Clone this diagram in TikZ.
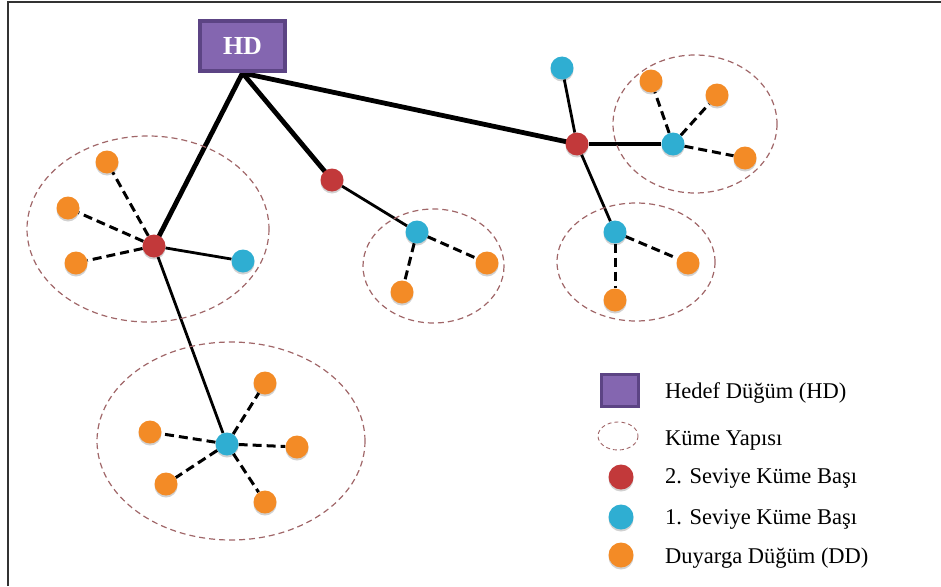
\documentclass[tikz,border=0pt]{standalone}
\usepackage{fontspec}
\setmainfont{Liberation Serif}
\usetikzlibrary{shadows,backgrounds}
\definecolor{ddorange}{HTML}{F38B26}
\definecolor{kbred}{HTML}{C2393A}
\definecolor{kbblue}{HTML}{2FAED2}
\definecolor{hdfill}{HTML}{8466B0}
\definecolor{hdedge}{HTML}{5C4484}
\definecolor{ringcol}{HTML}{A06668}
\tikzset{
  dot/.style={circle,minimum size=23pt,inner sep=0pt,
    drop shadow={shadow xshift=0pt,shadow yshift=-2pt,opacity=0.18,fill=black}},
  dd/.style={dot,fill=ddorange},
  kbone/.style={dot,fill=kbblue},
  kbtwo/.style={dot,fill=kbred},
  hdbox/.style={rectangle,fill=hdfill,draw=hdedge,line width=4pt,inner sep=0pt},
  trunk/.style={line width=4.8pt,black},
  link/.style={line width=2.8pt,black},
  member/.style={line width=3pt,black,dash pattern=on 9pt off 5pt},
  ring/.style={ringcol,line width=1.2pt,dash pattern=on 6pt off 4pt},
  legtext/.style={anchor=base west,font=\fontsize{22.5}{26}\selectfont,inner sep=0pt},
}
\begin{document}
\begin{tikzpicture}[x=1pt,y=-1pt]
\useasboundingbox (0,0) rectangle (941,586);
% frame
\draw[line width=2pt,black!80] (8,586) -- (8,2) -- (941,2);

% cluster outlines
\draw[ring] (148,229) ellipse [x radius=121,y radius=93];
\draw[ring] (433.5,266) ellipse [x radius=70.5,y radius=57];
\draw[ring] (695,124) ellipse [x radius=82,y radius=69];
\draw[ring] (636,262) ellipse [x radius=79,y radius=59];
\draw[ring] (231,441) ellipse [x radius=134,y radius=99];

% sink
\node[hdbox,minimum width=85pt,minimum height=50pt,
      font=\bfseries\fontsize{26}{30}\selectfont,text=white] (hd) at (242.5,46) {HD};

% second level heads
\node[kbtwo] (r1) at (154,246) {};
\node[kbtwo] (r2) at (332,180) {};
\node[kbtwo] (r3) at (577,144) {};

% first level heads
\node[kbone] (b1) at (243,261) {};
\node[kbone] (b2) at (417,232) {};
\node[kbone] (b3) at (562,68) {};
\node[kbone] (b4) at (673,144) {};
\node[kbone] (b5) at (615,232) {};
\node[kbone] (b6) at (227,444) {};

% sensor nodes
\node[dd] (d1) at (107,162) {};
\node[dd] (d2) at (68,208) {};
\node[dd] (d3) at (76,263) {};
\node[dd] (d4) at (487,263) {};
\node[dd] (d5) at (402,292) {};
\node[dd] (d6) at (651,81) {};
\node[dd] (d7) at (717,95) {};
\node[dd] (d8) at (745,158) {};
\node[dd] (d9) at (688,263) {};
\node[dd] (d10) at (615,300) {};
\node[dd] (d11) at (265,383) {};
\node[dd] (d12) at (150,432) {};
\node[dd] (d13) at (297,447) {};
\node[dd] (d14) at (166,484) {};
\node[dd] (d15) at (265,502) {};

\begin{scope}[on background layer]
  \draw[trunk] (hd.south) -- (r1.center);
  \draw[trunk] (hd.south) -- (r2.center);
  \draw[trunk] (hd.south) -- (r3.center);
  \draw[link] (r1) -- (b1);
  \draw[link] (r1) -- (b6);
  \draw[link] (r2) -- (b2);
  \draw[link] (r3) -- (b3);
  \draw[link,line width=3.4pt] (r3) -- (b4);
  \draw[link] (r3) -- (b5);
  \foreach \d in {d1,d2,d3} \draw[member] (r1) -- (\d);
  \foreach \d in {d4,d5} \draw[member] (b2) -- (\d);
  \foreach \d in {d6,d7,d8} \draw[member] (b4) -- (\d);
  \foreach \d in {d9,d10} \draw[member] (b5) -- (\d);
  \foreach \d in {d11,d12,d13,d14,d15} \draw[member] (b6) -- (\d);
\end{scope}

% legend
\node[hdbox,line width=3pt,minimum width=37pt,minimum height=32pt] (lhd) at (620,390.5) {};
\draw[ring,line width=0.9pt,dash pattern=on 4pt off 3pt] (618,436) ellipse [x radius=20,y radius=14];
\node[kbtwo,minimum size=25pt] (lred) at (621,477) {};
\node[kbone,minimum size=25pt] (lblue) at (621,517) {};
\node[dd,minimum size=25pt] (lorange) at (621,555) {};
\node[legtext] (t1) at (665,398) {Hedef Düğüm (HD)};
\node[legtext] (t2) at (665,445) {Küme Yapısı};
\node[legtext] (t3) at (665,483) {2. Seviye Küme Başı};
\node[legtext] (t4) at (665,524) {1. Seviye Küme Başı};
\node[legtext] (t5) at (665,563) {Duyarga Düğüm (DD)};
\end{tikzpicture}
\end{document}
